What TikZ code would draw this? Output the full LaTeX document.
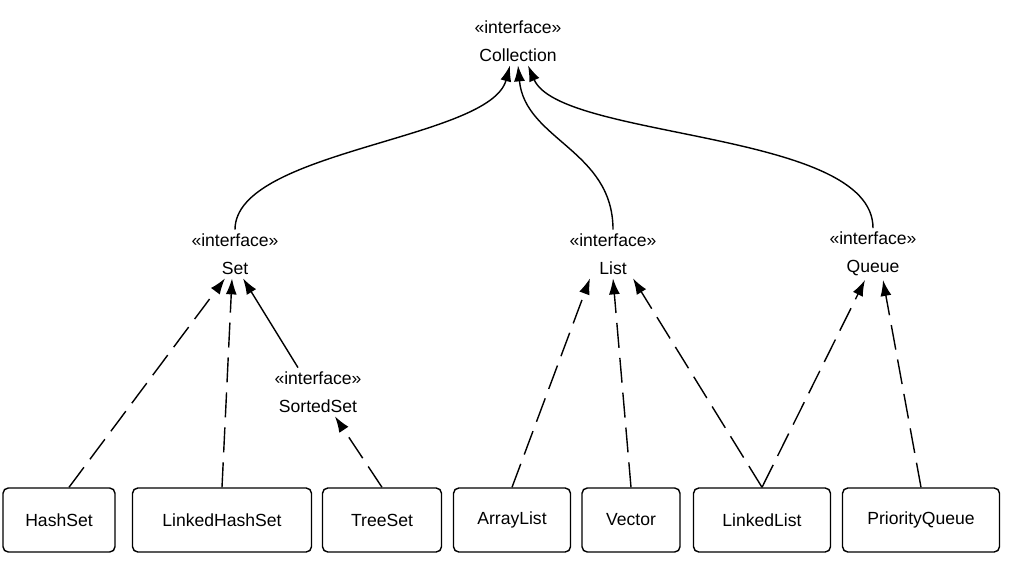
\documentclass[tikz,border=0pt]{standalone}
\usepackage{fontspec}
\setmainfont{Liberation Sans}
\usetikzlibrary{arrows.meta}
\tikzset{>={Latex[length=3.2mm,width=2.2mm]}}
\tikzset{iface/.style={align=center,font=\fontsize{10}{16}\selectfont,inner sep=2pt},
  cls/.style={draw,rounded corners=3pt,minimum height=1.28cm,font=\fontsize{10}{12}\selectfont,line width=0.8pt},
  impl/.style={->,dashed,dash pattern=on 5mm off 2mm,line width=0.8pt},
  ext/.style={->,line width=0.8pt}}
\begin{document}
\begin{tikzpicture}[x=0.02cm,y=-0.02cm]
  \useasboundingbox (0,0) rectangle (1033,568);
  % interfaces
  \node[iface] (coll) at (518,41) {«interface»\\Collection};
  \node[iface] (set) at (235,254) {«interface»\\Set};
  \node[iface] (list) at (613,254) {«interface»\\List};
  \node[iface] (queue) at (873,254) {«interface»\\Queue};
  \node[iface] (sorted) at (318,392) {«interface»\\SortedSet};
  % classes
  \node[cls,minimum width=2.24cm] (hs) at (59,520) {HashSet};
  \node[cls,minimum width=3.58cm] (lhs) at (222,520) {LinkedHashSet};
  \node[cls,minimum width=2.38cm] (ts) at (382,520) {TreeSet};
  \node[cls,minimum width=2.34cm] (al) at (512,520) {ArrayList};
  \node[cls,minimum width=1.96cm] (vec) at (631,520) {Vector};
  \node[cls,minimum width=2.74cm] (ll) at (762,520) {LinkedList};
  \node[cls,minimum width=3.14cm] (pq) at (921,520) {PriorityQueue};
  % extends Collection
  \draw[ext] (set.north) .. controls (235,150) and (490,140) .. ([xshift=-0.16cm]coll.south);
  \draw[ext] (list.north) .. controls (613,150) and (525,140) .. (coll.south);
  \draw[ext] (queue.north) .. controls (873,130) and (560,140) .. ([xshift=0.2cm]coll.south);
  \draw[ext] ([xshift=-0.4cm]sorted.north) -- ([xshift=0.16cm]set.south);
  % implementations
  \draw[impl] ([xshift=0.2cm]hs.north) -- ([xshift=-0.2cm]set.south);
  \draw[impl] (lhs.north) -- ([xshift=-0.06cm]set.south);
  \draw[impl] (ts.north) -- ([xshift=0.34cm]sorted.south);
  \draw[impl] (al.north) -- ([xshift=-0.46cm]list.south);
  \draw[impl] (vec.north) -- (list.south);
  \draw[impl] (ll.north) -- ([xshift=0.4cm]list.south);
  \draw[impl] (ll.north) -- ([xshift=-0.16cm]queue.south);
  \draw[impl] (pq.north) -- ([xshift=0.2cm]queue.south);
\end{tikzpicture}
\end{document}
